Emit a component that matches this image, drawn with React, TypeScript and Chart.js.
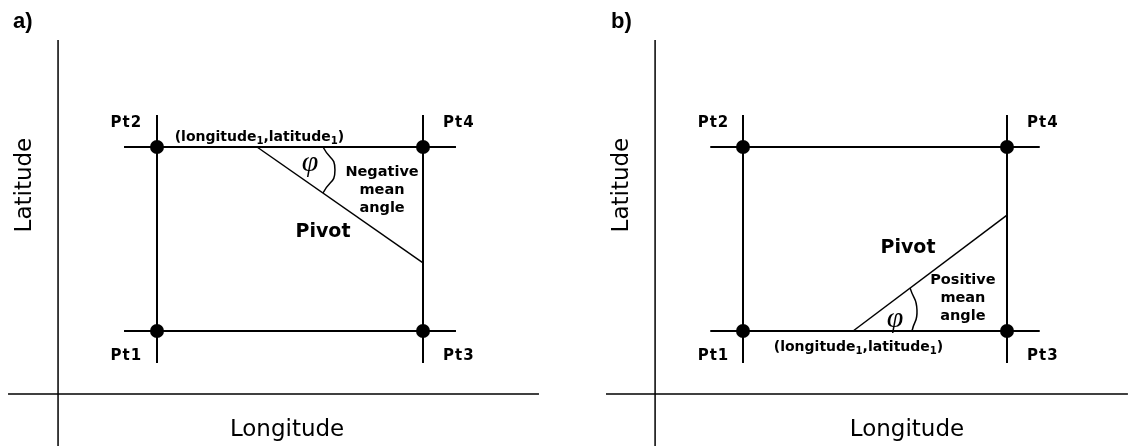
import React, { useEffect, useRef } from "react";
import { Chart, registerables } from "chart.js";

Chart.register(...registerables);

// ---- Data (grid cell in longitude / latitude units) ----
const cornerNames = ["Pt1", "Pt2", "Pt3", "Pt4"];
const cornerLon = [0, 0, 1, 1];
const cornerLat = [0, 1, 0, 1];
const cellLineLon = [-0.124, 1.124]; // extent of the cell's horizontal lines
const cellLineLat = [-0.174, 1.174]; // extent of the cell's vertical lines

// Panel a: negative mean angle
const pivotALon = [0.376, 1];
const pivotALat = [1, 0.37];
const arcALon = [0.624, 0.669, 0.624];
const arcALat = [1, 0.875, 0.75];
const axisALon = [-0.372, -0.56, 1.436];
const axisALat = [-0.342, 1.582, -0.625];

// Panel b: positive mean angle
const pivotBLon = [0.417, 1];
const pivotBLat = [0, 0.63];
const arcBLon = [0.64, 0.659, 0.633];
const arcBLat = [0, 0.114, 0.233];
const axisBLon = [-0.333, -0.519, 1.458];
const axisBLat = [-0.342, 1.582, -0.625];

const angleWordsA = ["Negative", "mean", "angle"];
const angleWordsB = ["Positive", "mean", "angle"];

type Lbl = { text: string; x: number; y: number; font: string; align?: CanvasTextAlign; rot?: number; spacing?: string; rich?: boolean };

const FONT = "'DejaVu Sans', Verdana, sans-serif";

function buildLabels(
  panel: string,
  pos: {
    tag: [number, number];
    lat: [number, number];
    lon: [number, number];
    corners: [number, number][];
    coord: [number, number];
    phi: [number, number];
    words: number[];
    wordsX: number;
    pivot: [number, number];
  },
  words: string[]
): Lbl[] {
  const out: Lbl[] = [];
  out.push({ text: panel, x: pos.tag[0], y: pos.tag[1], font: "bold 22px 'Liberation Sans', Arial, sans-serif", align: "left" });
  out.push({ text: "Latitude", x: pos.lat[0], y: pos.lat[1], font: `23px ${FONT}`, rot: -Math.PI / 2 });
  out.push({ text: "Longitude", x: pos.lon[0], y: pos.lon[1], font: `23px ${FONT}` });
  cornerNames.forEach((n, i) => {
    out.push({ text: n, x: pos.corners[i][0], y: pos.corners[i][1], font: `bold 15px ${FONT}`, spacing: "1px" });
  });
  out.push({ text: "(longitude|1|,latitude|1|)", x: pos.coord[0], y: pos.coord[1], font: `bold 14px ${FONT}`, rich: true });
  out.push({ text: "φ", x: pos.phi[0], y: pos.phi[1], font: "italic 30px 'Liberation Serif', 'DejaVu Serif', serif" });
  words.forEach((w, i) => {
    out.push({ text: w, x: pos.wordsX, y: pos.words[i], font: `bold 14.5px ${FONT}` });
  });
  out.push({ text: "Pivot", x: pos.pivot[0], y: pos.pivot[1], font: `bold 19px ${FONT}` });
  return out;
}

const labelsA = buildLabels(
  "a)",
  {
    tag: [-0.541, 1.679],
    lat: [-0.496, 0.793],
    lon: [0.489, -0.538],
    corners: [
      [-0.115, -0.136],
      [-0.115, 1.13],
      [1.135, -0.136],
      [1.135, 1.13],
    ],
    coord: [0.385, 1.054],
    phi: [0.575, 0.915],
    words: [0.864, 0.766, 0.668],
    wordsX: 0.846,
    pivot: [0.624, 0.538],
  },
  angleWordsA
);

const labelsB = buildLabels(
  "b)",
  {
    tag: [-0.5, 1.679],
    lat: [-0.458, 0.793],
    lon: [0.621, -0.538],
    corners: [
      [-0.112, -0.136],
      [-0.112, 1.13],
      [1.136, -0.136],
      [1.136, 1.13],
    ],
    coord: [0.4375, -0.087],
    phi: [0.576, 0.067],
    words: [0.277, 0.179, 0.082],
    wordsX: 0.833,
    pivot: [0.625, 0.451],
  },
  angleWordsB
);

function pts(xs: number[], ys: number[]) {
  return xs.map((x, i) => ({ x, y: ys[i] }));
}

function makeDatasets(pivLon: number[], pivLat: number[], arcLon: number[], arcLat: number[], axLon: number[], axLat: number[]) {
  const line = (data: { x: number; y: number }[], w: number, extra: any = {}) => ({
    type: "line" as const,
    data,
    borderColor: "#000",
    borderWidth: w,
    pointRadius: 0,
    showLine: true,
    fill: false,
    clip: false as any,
    tension: 0,
    ...extra,
  });
  return [
    // main axes
    line(pts([axLon[0], axLon[0]], [axLat[1], axLat[2]]), 1.5),
    line(pts([axLon[1], axLon[2]], [axLat[0], axLat[0]]), 1.5),
    // cell lines
    line(pts(cellLineLon, [0, 0]), 2),
    line(pts(cellLineLon, [1, 1]), 2),
    line(pts([0, 0], cellLineLat), 2),
    line(pts([1, 1], cellLineLat), 2),
    // pivot
    line(pts(pivLon, pivLat), 1.5),
    // angle arc
    line(pts(arcLon, arcLat), 1.5, { tension: 0.6 }),
    // corner points
    {
      type: "scatter" as const,
      data: pts(cornerLon, cornerLat),
      backgroundColor: "#000",
      borderColor: "#000",
      pointRadius: 7,
      borderWidth: 0,
      showLine: false,
      clip: false as any,
    },
  ];
}

function drawLabels(chart: any, labels: Lbl[]) {
  const ctx: CanvasRenderingContext2D = chart.ctx;
  const xs = chart.scales.x;
  const ys = chart.scales.y;
  ctx.save();
  ctx.fillStyle = "#000";
  for (const l of labels) {
    const px = xs.getPixelForValue(l.x);
    const py = ys.getPixelForValue(l.y);
    ctx.save();
    ctx.translate(px, py);
    if (l.rot) ctx.rotate(l.rot);
    ctx.font = l.font;
    (ctx as any).letterSpacing = l.spacing || "0px";
    ctx.textBaseline = "middle";
    if (l.rich) {
      const parts = l.text.split("|");
      const m = /(\d+(?:\.\d+)?)px/.exec(l.font);
      const size = m ? parseFloat(m[1]) : 13;
      const subFont = l.font.replace(/(\d+(?:\.\d+)?)px/, `${(size * 0.72).toFixed(1)}px`);
      let total = 0;
      const widths = parts.map((p, i) => {
        ctx.font = i % 2 === 1 ? subFont : l.font;
        const w = ctx.measureText(p).width;
        total += w;
        return w;
      });
      let x = -total / 2;
      ctx.textAlign = "left";
      parts.forEach((p, i) => {
        ctx.font = i % 2 === 1 ? subFont : l.font;
        ctx.fillText(p, x, i % 2 === 1 ? size * 0.28 : 0);
        x += widths[i];
      });
    } else {
      ctx.textAlign = l.align || "center";
      ctx.fillText(l.text, 0, 0);
    }
    ctx.restore();
  }
  ctx.restore();
}

function Panel(props: {
  left: number;
  xMin: number;
  xMax: number;
  datasets: any[];
  labels: Lbl[];
}) {
  const ref = useRef<HTMLCanvasElement | null>(null);
  useEffect(() => {
    if (!ref.current) return;
    const labels = props.labels;
    const chart = new Chart(ref.current, {
      type: "scatter",
      data: { datasets: props.datasets },
      options: {
        animation: false,
        responsive: false,
        maintainAspectRatio: false,
        events: [],
        layout: { padding: 0, autoPadding: false } as any,
        plugins: { legend: { display: false }, tooltip: { enabled: false }, title: { display: false } },
        scales: {
          x: { type: "linear", min: props.xMin, max: props.xMax, display: false },
          y: { type: "linear", min: -0.625, max: 1.7989, display: false },
        },
      },
      plugins: [
        {
          id: "textLabels",
          afterDatasetsDraw(c: any) {
            drawLabels(c, labels);
          },
        },
      ],
    } as any);
    return () => chart.destroy();
  }, []);
  return (
    <canvas
      ref={ref}
      width={564}
      height={446}
      style={{ position: "absolute", left: props.left, top: 0, width: 564, height: 446 }}
    />
  );
}

export default function App() {
  return (
    <div style={{ position: "fixed", left: 0, top: 0, width: 1128, height: 446, background: "#fff", overflow: "hidden" }}>
      <Panel
        left={0}
        xMin={-157 / 266}
        xMax={(564 - 157) / 266}
        datasets={makeDatasets(pivotALon, pivotALat, arcALon, arcALat, axisALon, axisALat)}
        labels={labelsA}
      />
      <Panel
        left={564}
        xMin={-179 / 264}
        xMax={(564 - 179) / 264}
        datasets={makeDatasets(pivotBLon, pivotBLat, arcBLon, arcBLat, axisBLon, axisBLat)}
        labels={labelsB}
      />
    </div>
  );
}
